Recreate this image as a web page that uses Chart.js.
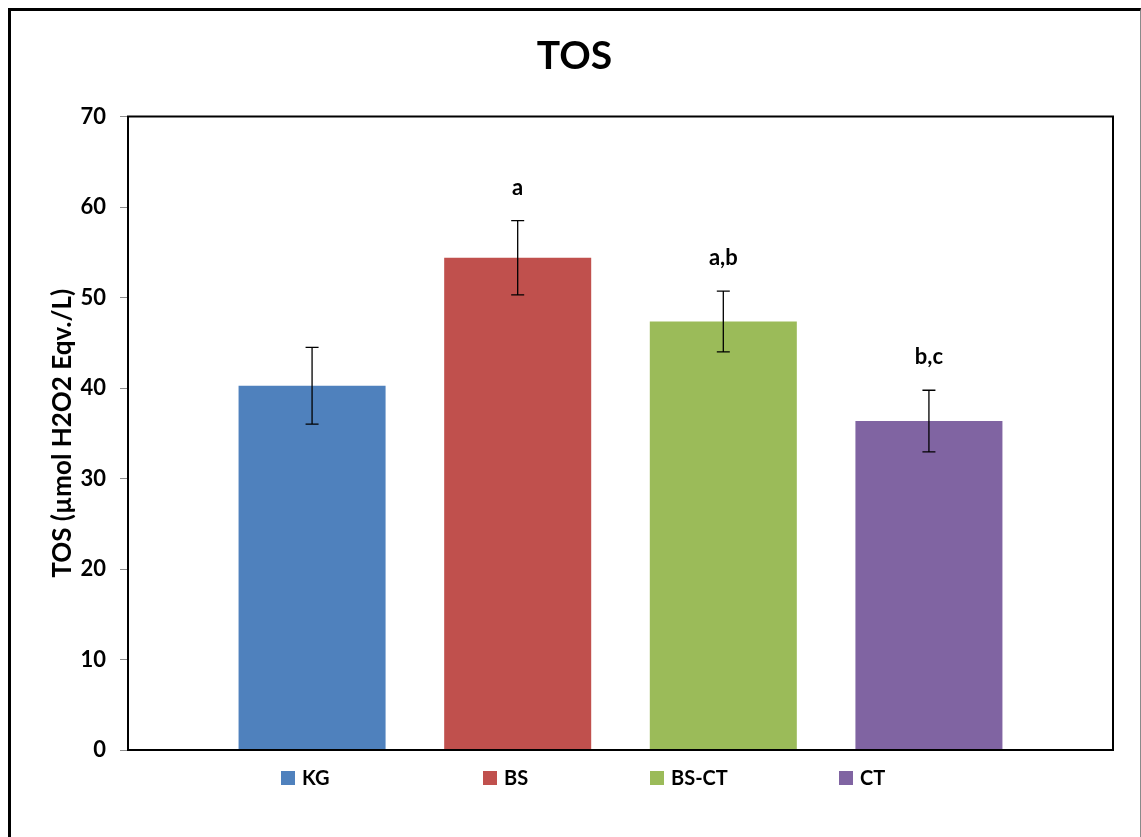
<!DOCTYPE html>
<html>
<head>
<meta charset="utf-8">
<title>TOS</title>
<script src="https://cdn.jsdelivr.net/npm/chart.js@4.4.1/dist/chart.umd.min.js"></script>
<style>
  html, body { margin: 0; padding: 0; background: #fff; }
  #wrap { position: relative; width: 1141px; height: 837px; overflow: hidden; }
  #wrap canvas { position: absolute; left: 0; top: 0; }
  #frame {
    position: absolute; left: 8px; top: 8px; width: 1133px; height: 900px;
    border-left: 3px solid #000; border-top: 3px solid #000; border-right: 1px solid #8a8a8a;
    box-sizing: border-box; pointer-events: none;
  }
</style>
</head>
<body>
<div id="wrap">
  <canvas id="chart" width="1141" height="837"></canvas>
  <div id="frame"></div>
</div>
<script>
// Groups, mean TOS values and their standard deviations
const groups = ['KG', 'BS', 'BS-CT', 'CT'];
const means = [40.25, 54.4, 47.35, 36.35];
const sds = [4.25, 4.1, 3.35, 3.4];
const sigLetters = ['', 'a', 'a,b', 'b,c'];
const colors = ['#4F81BD', '#C0504D', '#9BBB59', '#8064A2'];
const yTicks = [0, 10, 20, 30, 40, 50, 60, 70];

const FONT = 'Lato';
Chart.defaults.font.family = FONT;
Chart.defaults.color = '#000';

// Error bars (mean ± SD) and significance letters above each bar
const errorBars = {
  id: 'errorBars',
  afterDatasetsDraw(chart) {
    const { ctx, scales: { y } } = chart;
    ctx.save();
    chart.data.datasets.forEach((ds, i) => {
      const bar = chart.getDatasetMeta(i).data[0];
      if (!bar) return;
      const x = bar.x;
      const top = y.getPixelForValue(ds.data[0] + ds.sd);
      const bot = y.getPixelForValue(ds.data[0] - ds.sd);
      ctx.strokeStyle = '#000';
      ctx.lineWidth = 1.3;
      ctx.beginPath();
      ctx.moveTo(x, top); ctx.lineTo(x, bot);
      ctx.moveTo(x - 6.5, top); ctx.lineTo(x + 6.5, top);
      ctx.moveTo(x - 6.5, bot); ctx.lineTo(x + 6.5, bot);
      ctx.stroke();
      if (ds.letter) {
        ctx.fillStyle = '#000';
        ctx.font = 'bold 22px ' + FONT;
        ctx.textAlign = 'center';
        ctx.textBaseline = 'middle';
        ctx.fillText(ds.letter, x, top - 33);
      }
    });
    ctx.restore();
  }
};

// Box around the plot area
const plotFrame = {
  id: 'plotFrame',
  afterDraw(chart) {
    const { ctx, chartArea: a } = chart;
    ctx.save();
    ctx.strokeStyle = '#000';
    ctx.lineWidth = 2;
    ctx.strokeRect(a.left, a.top, a.right - a.left, a.bottom - a.top);
    ctx.restore();
  }
};

// Series legend spread along the bottom
const bottomLegend = {
  id: 'bottomLegend',
  afterDraw(chart, args, opts) {
    const { ctx } = chart;
    ctx.save();
    ctx.font = 'bold 20px ' + FONT;
    ctx.textBaseline = 'middle';
    ctx.textAlign = 'left';
    chart.data.datasets.forEach((ds, i) => {
      const bx = opts.itemX[i];
      const cy = opts.y;
      ctx.fillStyle = ds.backgroundColor;
      ctx.fillRect(bx, cy - 7, 14, 14);
      ctx.fillStyle = '#000';
      ctx.fillText(ds.label, bx + 21, cy + 1);
    });
    ctx.restore();
  }
};

new Chart(document.getElementById('chart'), {
  type: 'bar',
  data: {
    labels: [''],
    datasets: groups.map((g, i) => ({
      label: g,
      data: [means[i]],
      sd: sds[i],
      letter: sigLetters[i],
      backgroundColor: colors[i],
      borderWidth: 0,
      categoryPercentage: 0.835,
      barPercentage: 0.715
    }))
  },
  options: {
    responsive: false,
    animation: false,
    devicePixelRatio: 1,
    layout: { padding: { left: 36, right: 28, top: 0, bottom: 87 } },
    plugins: {
      legend: { display: false },
      tooltip: { enabled: false },
      title: {
        display: true,
        text: 'TOS',
        color: '#000',
        font: { family: FONT, size: 39, weight: 'bold' },
        padding: { top: 33.1, bottom: 36.6 }
      },
      bottomLegend: { itemX: [281, 483, 650, 839], y: 778 }
    },
    scales: {
      x: {
        ticks: { display: false },
        grid: { display: false, drawTicks: false },
        border: { display: true, color: '#000', width: 2 },
        afterFit(s) { s.height = 0; }
      },
      y: {
        min: 0,
        max: 70,
        afterBuildTicks(s) { s.ticks = yTicks.map(v => ({ value: v })); },
        ticks: { color: '#000', padding: 14, font: { family: FONT, size: 22, weight: 'bold' } },
        grid: { display: true, drawOnChartArea: false, drawTicks: true, tickLength: 8, color: '#8c8c8c', lineWidth: 1 },
        border: { display: true, color: '#000', width: 2 },
        title: {
          display: true,
          text: 'TOS (µmol H2O2 Eqv./L)',
          color: '#000',
          font: { family: FONT, size: 26, weight: 'bold' },
          padding: { top: 11, bottom: 0 }
        },
        afterFit(s) { s.width = 92; }
      }
    }
  },
  plugins: [errorBars, plotFrame, bottomLegend]
});
</script>
</body>
</html>
